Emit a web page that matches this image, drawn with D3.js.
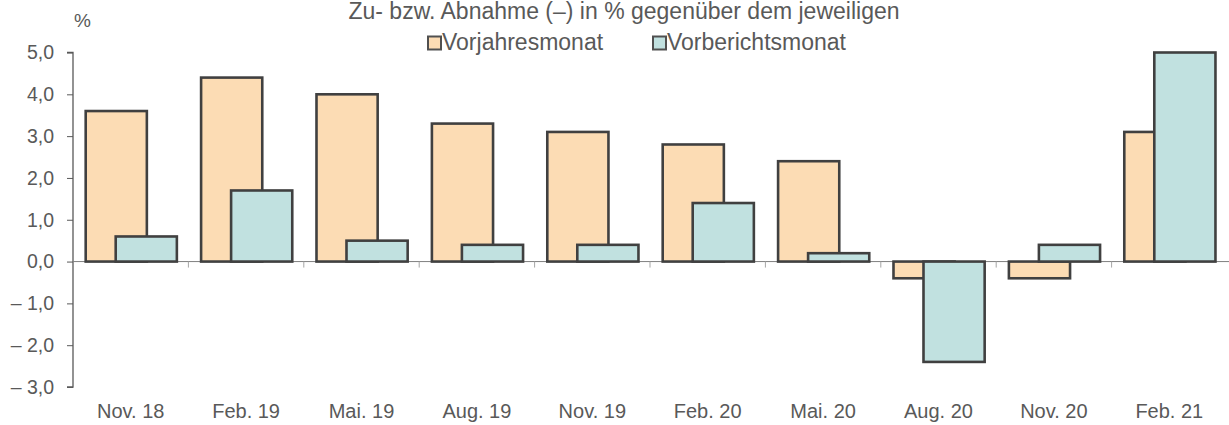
<!DOCTYPE html>
<html><head><meta charset="utf-8">
<script src="https://cdn.jsdelivr.net/npm/d3@7"></script>
<style>html,body{margin:0;padding:0;background:#fff;}svg{display:block;font-family:"Liberation Sans",Arial,sans-serif;}</style>
</head><body>
<script>
const categories = ["Nov. 18","Feb. 19","Mai. 19","Aug. 19","Nov. 19","Feb. 20","Mai. 20","Aug. 20","Nov. 20","Feb. 21"];
const vorjahresmonat = [3.6,4.4,4.0,3.3,3.1,2.8,2.4,-0.4,-0.4,3.1];
const vorberichtsmonat = [0.6,1.7,0.5,0.4,0.4,1.4,0.2,-2.4,0.4,5.0];
const yTicks = [5,4,3,2,1,0,-1,-2,-3];
const seriesNames = ["Vorjahresmonat","Vorberichtsmonat"];
const colors = ["#FCDCB4","#C1E1E0"];
const title = "Zu- bzw. Abnahme (–) in % gegenüber dem jeweiligen";

const W=1229,H=425;
const svg=d3.select("body").append("svg").attr("width",W).attr("height",H);
const pLeft=73,pRight=1227,pTop=52.5,pBottom=387;
const x=d3.scaleBand().domain(categories).range([pLeft,pRight]).paddingInner(0).paddingOuter(0);
const y=d3.scaleLinear().domain([-3,5]).range([pBottom,pTop]);
const fmt=v=>(v<0?"– ":"")+Math.abs(v).toFixed(1).replace(".",",");
const textCol="#595959";

// y axis
const ya=svg.append("g").attr("transform",`translate(${pLeft},0)`).call(d3.axisLeft(y).tickValues(yTicks).tickFormat(fmt).tickSize(6).tickPadding(13));
ya.select(".domain").attr("stroke","#595959").attr("stroke-width",1.3).attr("d",`M-6,${y(5)}H0V${y(-3)}H-6`);
ya.selectAll(".tick line").attr("stroke","#595959").attr("stroke-width",1);
ya.selectAll(".tick text").attr("fill",textCol).style("font-size","19.5px");

// zero line & x ticks
svg.append("line").attr("x1",pLeft).attr("x2",pRight+2).attr("y1",y(0)).attr("y2",y(0)).attr("stroke","#7f7f7f").attr("stroke-width",1);
svg.selectAll("line.xt").data(categories.slice(1)).enter().append("line").attr("class","xt")
  .attr("x1",d=>x(d)).attr("x2",d=>x(d)).attr("y1",y(0)).attr("y2",y(0)+6).attr("stroke","#a6a6a6").attr("stroke-width",1);

// bars
const bw=x.bandwidth();
const barW=bw*0.53, shift=bw*0.26, start=bw*0.11;
const series=[vorjahresmonat,vorberichtsmonat];
series.forEach((vals,si)=>{
  svg.append("g").selectAll("rect").data(vals).enter().append("rect")
    .attr("x",(d,i)=>x(categories[i])+start+si*shift)
    .attr("width",barW)
    .attr("y",d=>y(Math.max(0,d)))
    .attr("height",d=>Math.abs(y(d)-y(0)))
    .attr("fill",colors[si]).attr("stroke","#404040").attr("stroke-width",2.6);
});

// category labels
svg.append("g").selectAll("text").data(categories).enter().append("text")
  .attr("x",d=>x(d)+bw/2).attr("y",418).attr("text-anchor","middle").attr("fill",textCol).style("font-size","20px").text(d=>d);

// % label
svg.append("text").attr("x",74).attr("y",27).attr("fill",textCol).style("font-size","19px").text("%");
// title
svg.append("text").attr("x",624).attr("y",19).attr("text-anchor","middle").attr("fill",textCol).style("font-size","23px").text(title);
// legend
const legX=[428,653];
seriesNames.forEach((n,i)=>{
  svg.append("rect").attr("x",legX[i]).attr("y",36.5).attr("width",13).attr("height",13).attr("fill",colors[i]).attr("stroke","#505050").attr("stroke-width",2);
  svg.append("text").attr("x",legX[i]+14).attr("y",49.5).attr("fill",textCol).style("font-size","23px").text(n);
});
</script>
</body></html>
